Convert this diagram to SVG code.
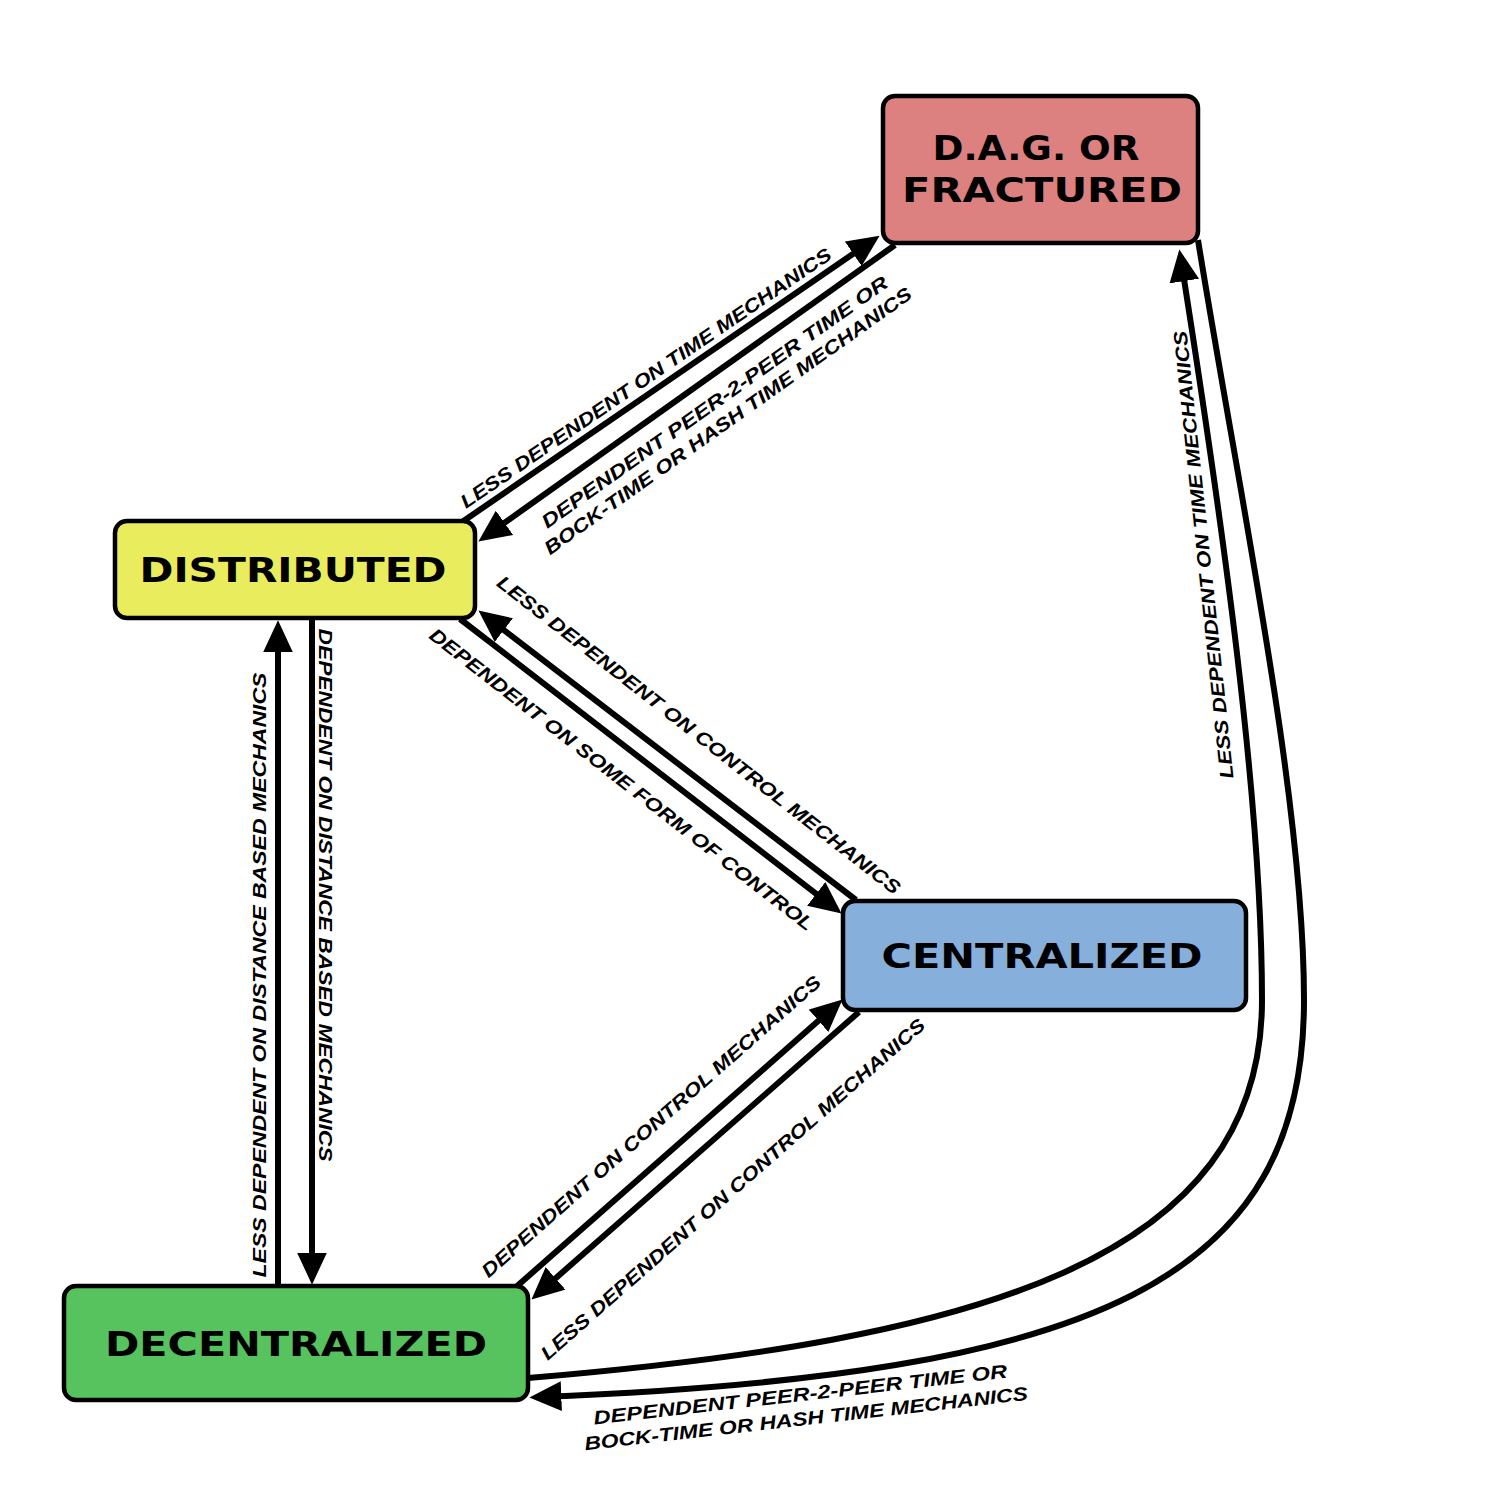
<svg xmlns="http://www.w3.org/2000/svg" width="1500" height="1500" viewBox="0 0 1500 1500">
<style>
.node rect{stroke:#000;stroke-width:4.5}
.nl{font-family:"DejaVu Sans","Liberation Sans",sans-serif;font-weight:bold;font-size:34px;fill:#000;text-anchor:middle}
.edge{fill:none;stroke:#000;stroke-width:6}
.el{font-family:"Liberation Sans","DejaVu Sans",sans-serif;font-style:italic;font-weight:bold;font-size:19px;fill:#000;text-anchor:middle}
</style>
<defs>
<marker id="ah" markerUnits="userSpaceOnUse" markerWidth="32" markerHeight="30" viewBox="0 0 30 28" refX="20" refY="14" orient="auto">
<path d="M0,0 L30,14 L0,28 z" fill="#000"/>
</marker>
</defs>
<rect width="1500" height="1500" fill="#fff"/>
<g id="connectors">
<path class="edge" d="M462,522 L870.8,241.7" marker-end="url(#ah)"/>
<path class="edge" d="M895,245 L487.1,535.2" marker-end="url(#ah)"/>
<path class="edge" d="M856,900 L486.9,617.1" marker-end="url(#ah)"/>
<path class="edge" d="M460,619 L833.1,906.9" marker-end="url(#ah)"/>
<path class="edge" d="M312,620 L312,1274" marker-end="url(#ah)"/>
<path class="edge" d="M278,1286 L278,631" marker-end="url(#ah)"/>
<path class="edge" d="M516,1287 L834.5,1006.6" marker-end="url(#ah)"/>
<path class="edge" d="M859,1012 L539.5,1292.4" marker-end="url(#ah)"/>
<path class="edge" d="M528,1378 C980,1340 1262,1260 1262,1000 C1262,800 1222,520 1181,260" marker-end="url(#ah)"/>
<path class="edge" d="M1198,240 C1240,500 1304,800 1304,1000 C1304,1280 1100,1375 540,1397" marker-end="url(#ah)"/>
<g id="edge-labels">
<text class="el" transform="translate(654,390) rotate(-34.4)" y="-8" textLength="445" lengthAdjust="spacingAndGlyphs">LESS DEPENDENT ON TIME MECHANICS</text>
<g transform="translate(701,383) rotate(-35.4)">
<text class="el" y="30" textLength="420" lengthAdjust="spacingAndGlyphs">DEPENDENT PEER-2-PEER TIME OR</text>
<text class="el" y="53" textLength="446" lengthAdjust="spacingAndGlyphs">BOCK-TIME OR HASH TIME MECHANICS</text>
</g>
<text class="el" transform="translate(677,763) rotate(37.9)" y="-29" textLength="505" lengthAdjust="spacingAndGlyphs">LESS DEPENDENT ON CONTROL MECHANICS</text>
<text class="el" transform="translate(639,757) rotate(37.8)" y="35" textLength="480" lengthAdjust="spacingAndGlyphs">DEPENDENT ON SOME FORM OF CONTROL</text>
<text class="el" transform="translate(326,895) rotate(90)" y="7" textLength="533" lengthAdjust="spacingAndGlyphs">DEPENDENT ON DISTANCE BASED MECHANICS</text>
<text class="el" transform="translate(259,975) rotate(-90)" y="7" textLength="605" lengthAdjust="spacingAndGlyphs">LESS DEPENDENT ON DISTANCE BASED MECHANICS</text>
<text class="el" transform="translate(672,1150) rotate(-41.4)" y="-25" textLength="445" lengthAdjust="spacingAndGlyphs">DEPENDENT ON CONTROL MECHANICS</text>
<text class="el" transform="translate(700,1152) rotate(-41.4)" y="56" textLength="505" lengthAdjust="spacingAndGlyphs">LESS DEPENDENT ON CONTROL MECHANICS</text>
<text class="el" transform="translate(1203,555) rotate(-96)" y="7" textLength="450" lengthAdjust="spacingAndGlyphs">LESS DEPENDENT ON TIME MECHANICS</text>
<g transform="translate(801,1401) rotate(-6.5)">
<text class="el" y="0" textLength="416" lengthAdjust="spacingAndGlyphs">DEPENDENT PEER-2-PEER TIME OR</text>
<text class="el" x="3" y="24.5" textLength="446" lengthAdjust="spacingAndGlyphs">BOCK-TIME OR HASH TIME MECHANICS</text>
</g>
</g>
</g>
<g id="node-dag" class="node">
<rect x="883" y="96" width="315" height="147" rx="12" fill="#dd8080"/>
<text class="nl" x="1036" y="160" textLength="207" lengthAdjust="spacingAndGlyphs">D.A.G. OR</text>
<text class="nl" x="1042" y="202" textLength="280" lengthAdjust="spacingAndGlyphs">FRACTURED</text>
</g>
<g id="node-distributed" class="node">
<rect x="115" y="521" width="360" height="97" rx="12" fill="#e9ed5d"/>
<text class="nl" x="293" y="582" textLength="307" lengthAdjust="spacingAndGlyphs">DISTRIBUTED</text>
</g>
<g id="node-centralized" class="node">
<rect x="843" y="901" width="403" height="109" rx="12" fill="#86afdc"/>
<text class="nl" x="1042" y="968" textLength="321" lengthAdjust="spacingAndGlyphs">CENTRALIZED</text>
</g>
<g id="node-decentralized" class="node">
<rect x="64" y="1286" width="464" height="114" rx="12" fill="#56c35f"/>
<text class="nl" x="296" y="1356" textLength="382" lengthAdjust="spacingAndGlyphs">DECENTRALIZED</text>
</g>
</svg>
